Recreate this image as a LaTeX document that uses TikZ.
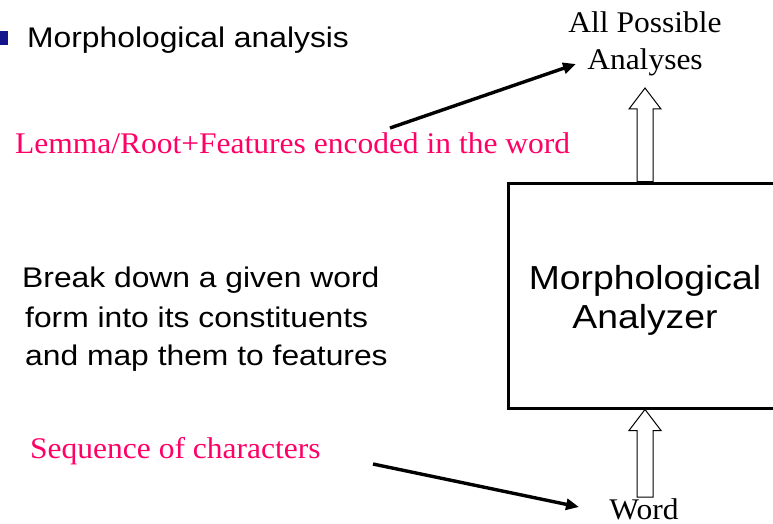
\documentclass[tikz,border=0pt]{standalone}
\usepackage{fontspec}
\setmainfont{Liberation Serif}
\newfontfamily\slidesans[FakeStretch=1.12]{Liberation Sans}
\newfontfamily\slideserif[FakeStretch=1.05]{Liberation Serif}
\usetikzlibrary{arrows.meta,calc}
\definecolor{rosered}{RGB}{255,0,102}
\definecolor{bulletblue}{RGB}{20,20,140}
\tikzset{
  sanstext/.style={inner sep=0pt, font=\slidesans\fontsize{28.4}{38}\selectfont},
  seriftext/.style={inner sep=0pt, font=\slideserif\fontsize{30}{37}\selectfont},
  notetext/.style={seriftext, text=rosered},
  pointer/.style={line width=3.4pt, -{Triangle[length=13pt,width=11pt]}},
  hollow/.style={draw=black, line width=1pt, fill=white, line join=miter},
  procbox/.style={draw=black, line width=3pt, minimum width=274pt, minimum height=225pt, inner sep=0pt},
}
\newcommand{\hollowup}[2]{% base, tip
  \draw[hollow] ($(#1)+(-8,0)$) -- ($(#2)+(-8,21)$) -- ($(#2)+(-16,21)$) -- (#2)
    -- ($(#2)+(16,21)$) -- ($(#2)+(8,21)$) -- ($(#1)+(8,0)$) -- cycle;}
\begin{document}
\begin{tikzpicture}[x=1pt,y=-1pt]
  \useasboundingbox (0,0) rectangle (773,524);

  % title bullet
  \fill[bulletblue] (0,31) rectangle (8,45);
  \node[sanstext, anchor=base west] (title) at (27,48) {Morphological analysis};

  % analyzer box (runs past the right edge)
  \node[procbox] (box) at (645,295.5) {};
  \node[sanstext, font=\slidesans\fontsize{33.3}{39}\selectfont, anchor=base] (boxl1) at (645,289) {Morphological};
  \node[sanstext, font=\slidesans\fontsize{33.3}{39}\selectfont, anchor=base] (boxl2) at (645,328) {Analyzer};

  % output and input labels
  \node[seriftext, anchor=base] (out1) at (645,33) {All Possible};
  \node[seriftext, anchor=base] (out2) at (645,70) {Analyses};
  \node[seriftext, anchor=base] (word) at (644,519) {Word};

  % description
  \node[sanstext, anchor=base west] (d1) at (22,287) {Break down a given word};
  \node[sanstext, anchor=base west] (d2) at (25,327) {form into its constituents};
  \node[sanstext, anchor=base west] (d3) at (25,365) {and map them to features};

  % red annotations
  \node[notetext, anchor=base west] (lemma) at (15,153) {Lemma/Root+Features encoded in the word};
  \node[notetext, anchor=base west] (seq) at (30,458) {Sequence of characters};

  % pointers from annotations
  \coordinate (lemmaend) at (390,128);
  \coordinate (outtip) at (576,64);
  \draw[pointer] (lemmaend) -- (outtip);
  \coordinate (seqend) at (373,464);
  \coordinate (wordtip) at (579,507);
  \draw[pointer] (seqend) -- (wordtip);

  % hollow flow arrows
  \coordinate (outbase) at (box.north);
  \coordinate (outarrow) at (645,88);
  \hollowup{outbase}{outarrow}
  \coordinate (inbase) at (645,497);
  \coordinate (inarrow) at (box.south);
  \hollowup{inbase}{inarrow}
\end{tikzpicture}
\end{document}
